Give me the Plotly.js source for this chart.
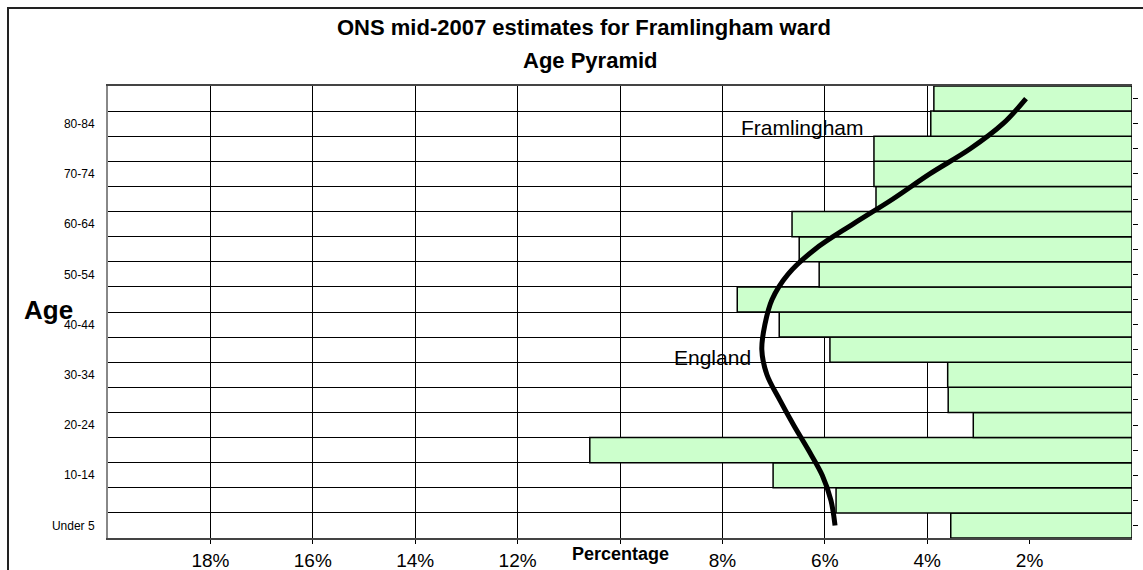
<!DOCTYPE html>
<html>
<head>
<meta charset="utf-8">
<script src="https://cdn.plot.ly/plotly-3.0.1.min.js"></script>
<style>html,body{margin:0;padding:0;background:#fff;}#chart{width:1143px;height:570px;}</style>
</head>
<body>
<div id="chart"></div>
<script>
// Age groups (bottom to top)
const ages = ['Under 5','5-9','10-14','15-19','20-24','25-29','30-34','35-39','40-44','45-49','50-54','55-59','60-64','65-69','70-74','75-79','80-84','85+'];
// Framlingham ward share of population (%)
const framlingham = [3.54,5.78,7.01,10.59,3.10,3.59,3.60,5.90,6.89,7.71,6.11,6.50,6.64,5.00,5.04,5.04,3.93,3.87];
// England share of population (%)
const england = [5.80,5.88,6.05,6.32,6.61,6.88,7.13,7.23,7.17,7.03,6.72,6.19,5.45,4.67,3.95,3.16,2.52,2.07];
// Labelled age groups on the y axis
const yLabels = ['Under 5','10-14','20-24','30-34','40-44','50-54','60-64','70-74','80-84'];
// x axis ticks
const xTickVals = [2,4,6,8,10,12,14,16,18];
const xTickText = ['2%','4%','6%','8%','','12%','14%','16%','18%'];

const idx = ages.map((a, i) => i);

const traces = [
  {
    type: 'bar', orientation: 'h',
    x: framlingham, y: idx,
    width: 1,
    marker: {color: '#CCFFCC', line: {color: '#000', width: 1.5}},
    xaxis: 'x', yaxis: 'y', hoverinfo: 'x+text', text: ages, textposition: 'none'
  },
  {
    type: 'scatter', mode: 'lines',
    x: england, y: idx,
    line: {color: '#000', width: 5, shape: 'spline', smoothing: 1},
    xaxis: 'x', yaxis: 'y2'
  }
];

const L = 108, R = 1132, T = 86, B = 538, W = 1143, H = 570;
const px = v => (v - L) / (R - L);
const py = v => (B - v) / (B - T);

const layout = {
  width: W, height: H,
  margin: {l: L, r: W - R, t: T, b: H - B, pad: 0},
  paper_bgcolor: '#fff', plot_bgcolor: '#fff',
  showlegend: false,
  bargap: 0,
  font: {family: 'Arial, "Liberation Sans", sans-serif', color: '#000'},
  xaxis: {
    range: [20, 0], autorange: false,
    tickmode: 'array', tickvals: xTickVals, ticktext: xTickText,
    showgrid: true, gridcolor: '#000', gridwidth: 1,
    zeroline: false,
    ticks: 'outside', ticklen: 4, tickcolor: '#000',
    tickfont: {size: 19, color: '#000'},
    showline: true, linecolor: '#444', linewidth: 2, mirror: true
  },
  yaxis: {
    range: [-0.5, ages.length - 0.5], autorange: false,
    tickmode: 'array', tickvals: yLabels.map(l => ages.indexOf(l)), ticktext: yLabels,
    showgrid: false, zeroline: false,
    ticks: 'outside', ticklen: 9, tickcolor: 'rgba(0,0,0,0)',
    tickfont: {size: 12, color: '#000'},
    minor: {tickmode: 'linear', tick0: -0.5, dtick: 1, showgrid: true, gridcolor: '#000', gridwidth: 1, ticks: ''},
    showline: true, linecolor: '#888', linewidth: 2, mirror: false
  },
  yaxis2: {
    overlaying: 'y', side: 'right',
    range: [-0.5, ages.length - 0.5], autorange: false,
    tickmode: 'linear', tick0: 0, dtick: 1,
    showticklabels: false, showgrid: false, zeroline: false,
    ticks: 'outside', ticklen: 5, tickcolor: '#000',
    showline: false
  },
  annotations: [
    {xref: 'paper', yref: 'paper', x: px(584), y: py(28), text: '<b>ONS mid-2007 estimates for Framlingham ward</b>',
     showarrow: false, xanchor: 'center', yanchor: 'middle', font: {size: 22, color: '#000'}},
    {xref: 'paper', yref: 'paper', x: px(590), y: py(60), text: '<b>Age Pyramid</b>',
     showarrow: false, xanchor: 'center', yanchor: 'middle', font: {size: 22, color: '#000'}},
    {xref: 'paper', yref: 'paper', x: px(48), y: py(310), text: '<b>Age</b>',
     showarrow: false, xanchor: 'center', yanchor: 'middle', font: {size: 26, color: '#000'}},
    {xref: 'x', yref: 'paper', x: 10, y: py(554), text: '<b>Percentage</b>',
     showarrow: false, xanchor: 'center', yanchor: 'middle', font: {size: 18, color: '#000'}},
    {xref: 'x', yref: 'y', x: 6.43, y: 15.83, text: 'Framlingham',
     showarrow: false, xanchor: 'center', yanchor: 'middle', font: {size: 21, color: '#000'}},
    {xref: 'x', yref: 'y', x: 8.2, y: 6.69, text: 'England',
     showarrow: false, xanchor: 'center', yanchor: 'middle', font: {size: 21, color: '#000'}}
  ],
  shapes: [
    {type: 'path', xref: 'paper', yref: 'paper',
     path: 'M ' + px(8) + ' ' + py(580) + ' L ' + px(8) + ' ' + py(8) + ' L ' + px(1160) + ' ' + py(8),
     line: {color: '#222', width: 2}, layer: 'above'}
  ]
};

Plotly.newPlot('chart', traces, layout, {staticPlot: true, displayModeBar: false});
</script>
</body>
</html>
